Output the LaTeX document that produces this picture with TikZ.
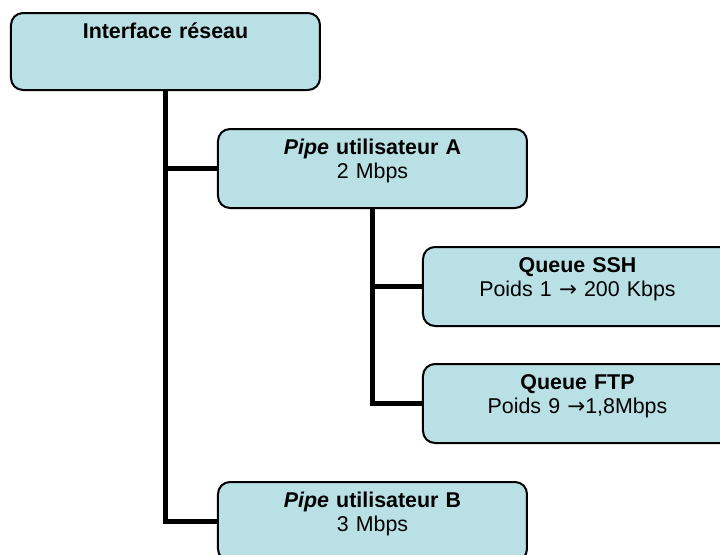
\documentclass[tikz,border=0pt]{standalone}
\usepackage{fontspec}
\setmainfont{Liberation Sans}
\newfontfamily\arrowfont{DejaVu Sans}
\newcommand{\rarr}{{\arrowfont →}}
\definecolor{boxfill}{RGB}{185,224,228}
\tikzset{
  box/.style={draw=black, line width=1pt, fill=boxfill, rounded corners=6pt,
    anchor=north west, inner sep=0pt, text width=154.5pt, align=center,
    font=\fontsize{10.7}{12}\selectfont, text height=12.5pt, text depth=27pt},
  link/.style={line width=2.5pt, line join=miter}
}

\begin{document}
\begin{tikzpicture}[x=0.5pt,y=-0.5pt]
  \useasboundingbox (0,0) rectangle (720,554);
  \clip (0,0) rectangle (720,554);

  % Root box
  \node[box, text depth=26pt] (iface) at (10,12) {\textbf{Interface réseau}};

  % Pipes
  \node[box] (pipeA) at (217,128) {\textbf{\textit{Pipe} utilisateur A}\\2 Mbps};
  \node[box] (pipeB) at (217,481) {\textbf{\textit{Pipe} utilisateur B}\\3 Mbps};

  % Queues of pipe A
  \node[box] (ssh) at (422,246) {\textbf{Queue SSH}\\Poids 1 \rarr{} 200 Kbps};
  \node[box] (ftp) at (422,363) {\textbf{Queue FTP}\\Poids 9 \rarr1,8Mbps};

  % Links
  \draw[link] (iface.south) |- (pipeA.west);
  \draw[link] (iface.south) |- (pipeB.west);
  \draw[link] (pipeA.south) |- (ssh.west);
  \draw[link] (pipeA.south) |- (ftp.west);
\end{tikzpicture}
\end{document}
